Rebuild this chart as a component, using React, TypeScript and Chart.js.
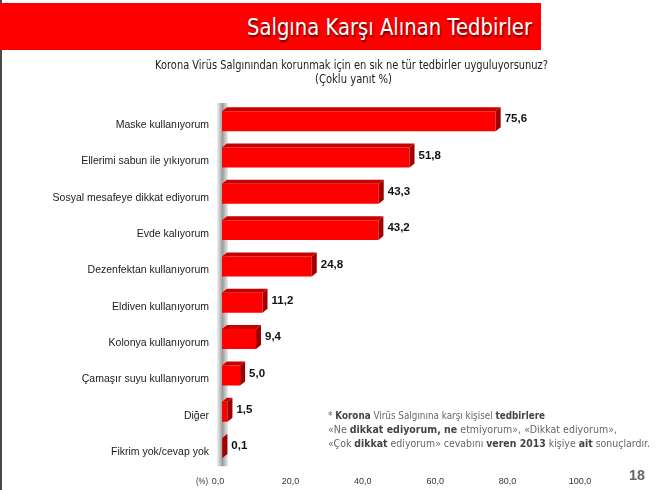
import React, { useEffect, useLayoutEffect, useRef } from "react";
import { Chart, registerables } from "chart.js";

Chart.register(...registerables);

const categories = [
  "Maske kullanıyorum",
  "Ellerimi sabun ile yıkıyorum",
  "Sosyal mesafeye dikkat ediyorum",
  "Evde kalıyorum",
  "Dezenfektan kullanıyorum",
  "Eldiven kullanıyorum",
  "Kolonya kullanıyorum",
  "Çamaşır suyu kullanıyorum",
  "Diğer",
  "Fikrim yok/cevap yok",
];
const values = [75.6, 51.8, 43.3, 43.2, 24.8, 11.2, 9.4, 5.0, 1.5, 0.1];
const xTicks = [0, 20, 40, 60, 80, 100];

const fmt = (v: number) => v.toFixed(1).replace(".", ",");
const FAMILY = "'Liberation Sans', Arial, sans-serif";

const bar3d = {
  id: "bar3d",
  beforeDatasetsDraw(chart: any) {
    const { ctx, chartArea } = chart;
    const l = chartArea.left;
    const g = ctx.createLinearGradient(l - 5, 0, l + 6, 0);
    g.addColorStop(0, "#f2f2f2");
    g.addColorStop(0.5, "#9c9c9c");
    g.addColorStop(1, "#ececec");
    ctx.save();
    ctx.fillStyle = g;
    ctx.fillRect(l - 5, chartArea.top, 11, chartArea.bottom - chartArea.top);
    ctx.restore();
  },
  afterDatasetsDraw(chart: any) {
    const meta = chart.getDatasetMeta(0);
    const ctx = chart.ctx;
    const dx = 5;
    const dy = 4;
    ctx.save();
    meta.data.forEach((el: any, i: number) => {
      const { x, y, base, height } = el.getProps(["x", "y", "base", "height"], true);
      const top = y - height / 2;
      const bottom = y + height / 2;
      ctx.fillStyle = "#c80000";
      ctx.beginPath();
      ctx.moveTo(base, top);
      ctx.lineTo(base + dx, top - dy);
      ctx.lineTo(x + dx, top - dy);
      ctx.lineTo(x, top);
      ctx.closePath();
      ctx.fill();
      ctx.fillStyle = "#a00000";
      ctx.beginPath();
      ctx.moveTo(x, top);
      ctx.lineTo(x + dx, top - dy);
      ctx.lineTo(x + dx, bottom - dy);
      ctx.lineTo(x, bottom);
      ctx.closePath();
      ctx.fill();
      ctx.fillStyle = "#111";
      ctx.font = `bold 11.5px ${FAMILY}`;
      ctx.textBaseline = "middle";
      ctx.textAlign = "left";
      ctx.fillText(fmt(values[i]), x + dx + 4, y - dy / 2);
    });
    ctx.restore();
  },
};

function FitText(props: {
  x: number;
  y: number;
  width: number;
  size: number;
  lh?: number;
  style?: React.CSSProperties;
  children: React.ReactNode;
}) {
  const ref = useRef<HTMLDivElement>(null);
  const lh = props.lh ?? Math.round(props.size * 1.25);
  useLayoutEffect(() => {
    const el = ref.current;
    if (!el) return;
    el.style.transform = "none";
    const w = el.getBoundingClientRect().width;
    if (w > 0) el.style.transform = `scaleX(${props.width / w})`;
  }, []);
  return (
    <div
      ref={ref}
      style={{
        position: "absolute",
        left: props.x,
        top: props.y - lh / 2,
        lineHeight: `${lh}px`,
        fontSize: props.size,
        whiteSpace: "nowrap",
        transformOrigin: "left center",
        fontFamily: "'DejaVu Sans', sans-serif",
        ...props.style,
      }}
    >
      {props.children}
    </div>
  );
}

export default function App() {
  const canvasRef = useRef<HTMLCanvasElement>(null);

  useEffect(() => {
    if (!canvasRef.current) return;
    const chart = new Chart(canvasRef.current, {
      type: "bar",
      data: {
        labels: categories,
        datasets: [
          {
            data: values,
            backgroundColor: "#ff0000",
            borderWidth: 0,
            barPercentage: 0.55,
            categoryPercentage: 1,
          },
        ],
      },
      options: {
        indexAxis: "y",
        animation: false,
        responsive: false,
        maintainAspectRatio: false,
        layout: { padding: { left: 0, right: 76, top: 103, bottom: -7 } },
        plugins: {
          legend: { display: false },
          tooltip: { enabled: false },
          title: { display: false },
        },
        scales: {
          x: {
            min: 0,
            max: 100,
            grid: { display: false, drawTicks: false },
            border: { display: false },
            afterBuildTicks: (s: any) => {
              s.ticks = xTicks.map((v) => ({ value: v }));
            },
            ticks: {
              callback: (v: any) => fmt(Number(v)),
              font: { size: 9, family: FAMILY },
              color: "#333",
              padding: 10,
              labelOffset: -4,
              maxRotation: 0,
              autoSkip: false,
            },
          },
          y: {
            grid: { display: false, drawTicks: false },
            border: { display: false },
            afterFit: (s: any) => {
              s.width = 222;
            },
            ticks: {
              font: { size: 10.5, family: FAMILY },
              color: "#1a1a1a",
              padding: 13,
              labelOffset: 4,
              autoSkip: false,
            },
          },
        },
      },
      plugins: [bar3d],
    } as any);
    return () => chart.destroy();
  }, []);

  const bold: React.CSSProperties = { fontWeight: "bold", color: "#444" };

  return (
    <div
      style={{
        position: "fixed",
        left: 0,
        top: 0,
        width: 660,
        height: 490,
        background: "#fff",
        overflow: "hidden",
      }}
    >
      <canvas
        ref={canvasRef}
        width={660}
        height={490}
        style={{ position: "absolute", left: 0, top: 0, display: "block" }}
      />
      <div style={{ position: "absolute", left: 0, top: 0, width: 2, height: 490, background: "#4a4a4a" }} />
      <div style={{ position: "absolute", left: 0, top: 3, width: 541, height: 47, background: "#ff0000" }} />
      <FitText
        x={247}
        y={27}
        width={285}
        size={23}
        lh={28}
        style={{ color: "#fff", textShadow: "1px 2px 2px rgba(0,0,0,0.6)" }}
      >
        Salgına Karşı Alınan Tedbirler
      </FitText>
      <FitText x={155} y={65} width={393} size={12} style={{ color: "#222" }}>
        Korona Virüs Salgınından korunmak için en sık ne tür tedbirler uyguluyorsunuz?
      </FitText>
      <FitText x={315} y={79} width={77} size={12} style={{ color: "#222" }}>
        (Çoklu yanıt %)
      </FitText>
      <FitText x={328} y={415} width={217} size={10.5} style={{ color: "#666" }}>
        * <span style={bold}>Korona</span> Virüs Salgınına karşı kişisel <span style={bold}>tedbirlere</span>
      </FitText>
      <FitText x={328} y={429} width={289} size={10.5} style={{ color: "#666" }}>
        «Ne <span style={bold}>dikkat ediyorum, ne</span> etmiyorum», «Dikkat ediyorum»,
      </FitText>
      <FitText x={328} y={443} width={322} size={10.5} style={{ color: "#666" }}>
        «Çok <span style={bold}>dikkat</span> ediyorum» cevabını <span style={bold}>veren 2013</span> kişiye{" "}
        <span style={bold}>ait</span> sonuçlardır.
      </FitText>
      <FitText x={196} y={481} width={12} size={9} style={{ color: "#333", fontFamily: FAMILY }}>
        (%)
      </FitText>
      <FitText x={629} y={474} width={16} size={15} style={{ color: "#666", fontWeight: "bold", fontFamily: FAMILY }}>
        18
      </FitText>
    </div>
  );
}
